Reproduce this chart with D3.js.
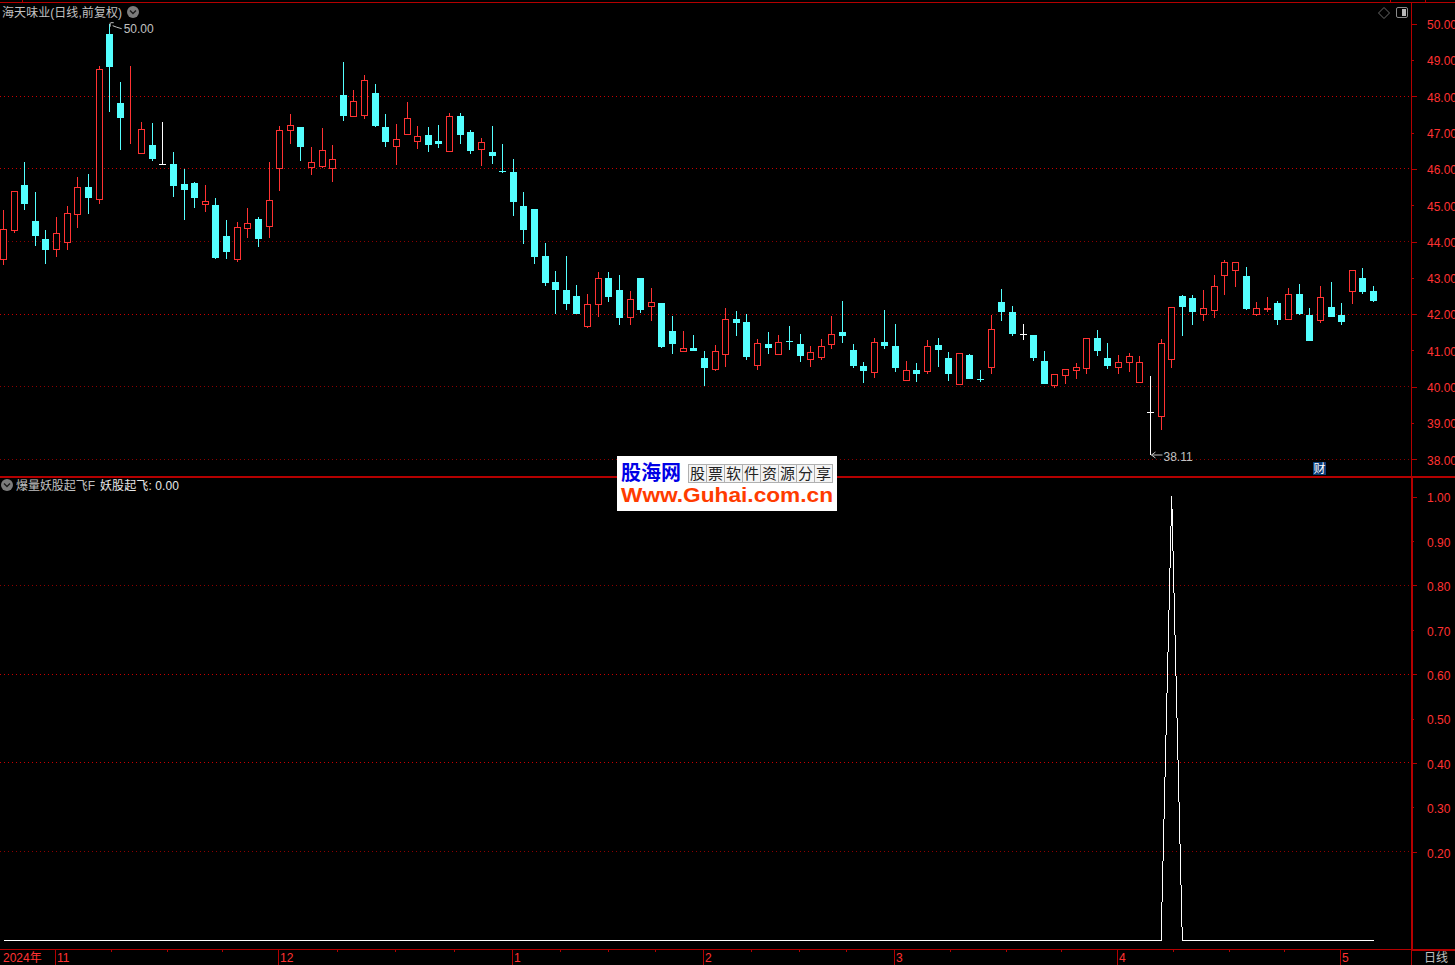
<!DOCTYPE html>
<html>
<head>
<meta charset="utf-8">
<title>海天味业</title>
<script src="https://cdn.jsdelivr.net/npm/d3@7"></script>
<style>
html, body { margin: 0; padding: 0; background: #000; overflow: hidden; }
svg { display: block; }
text { font-family: "Liberation Sans", "Noto Sans CJK SC", sans-serif; font-size: 12px; }
</style>
</head>
<body>
<div id="chart"></div>
<script>
// daily bars
const opens = [43.51,44.33,45.56,44.57,44.07,43.78,44.00,44.75,45.50,45.18,49.72,47.82,46.90,46.43,46.66,46.13,46.14,45.58,45.61,45.02,45.01,44.15,43.51,44.36,44.62,44.44,46.03,47.06,47.15,46.04,46.07,46.02,48.04,47.47,47.49,48.09,47.15,46.64,46.97,46.78,46.93,46.77,46.50,47.46,47.02,46.56,46.47,45.94,45.91,44.98,44.90,43.60,42.88,42.66,42.50,41.68,42.29,42.99,42.66,41.93,42.99,42.23,42.31,41.53,40.99,41.07,40.79,40.50,40.91,41.87,41.78,40.61,41.18,40.91,41.25,41.18,40.75,40.83,41.19,41.51,41.01,40.57,40.41,41.23,41.12,40.19,40.46,40.44,41.15,40.79,40.08,40.87,40.20,40.55,42.33,42.06,41.44,41.42,40.71,40.06,40.33,40.47,40.52,41.34,40.79,40.55,40.69,40.14,39.29,39.18,40.77,42.50,42.44,42.01,42.10,43.09,43.22,43.05,42.01,42.15,42.31,41.87,42.55,41.97,41.85,42.20,41.97,42.65,43.00,42.64];
const closes = [44.34,45.38,45.02,44.16,43.77,44.23,44.78,45.49,45.20,48.74,48.81,47.40,46.91,47.09,46.27,46.13,45.53,45.42,45.20,45.11,43.55,43.71,44.39,44.50,44.07,45.13,47.06,47.20,46.60,46.18,46.51,46.26,47.46,47.87,48.44,47.18,46.74,46.81,47.39,46.92,46.66,46.69,47.45,46.93,46.49,46.73,46.36,45.93,45.09,44.32,43.57,42.86,42.66,42.28,42.00,42.27,42.99,42.47,41.89,42.41,42.11,42.32,41.09,41.18,41.06,40.98,40.52,40.97,41.86,41.76,40.82,41.20,41.07,41.22,41.24,40.85,40.95,41.11,41.44,41.40,40.57,40.43,41.22,41.12,40.52,40.45,40.35,41.11,41.01,40.35,40.92,40.21,40.19,41.58,42.06,41.45,41.44,40.79,40.07,40.34,40.48,40.54,41.33,40.98,40.57,40.67,40.84,40.67,39.29,41.20,42.19,42.20,42.06,42.16,42.77,43.43,43.43,42.14,42.16,42.18,41.84,42.55,42.00,41.26,42.46,41.92,41.78,43.21,42.61,42.36];
const highs = [44.87,45.38,46.18,45.36,44.32,44.68,44.98,45.78,45.86,48.84,50.00,48.39,48.84,47.29,47.26,47.29,46.47,46.00,45.64,45.56,45.20,44.59,44.54,44.92,44.68,46.19,47.18,47.51,47.15,46.60,47.13,46.66,48.95,48.17,48.59,48.34,47.51,47.24,47.84,47.18,47.15,47.21,47.54,47.54,47.07,46.85,47.18,46.69,46.27,45.36,44.90,43.96,43.19,43.60,42.80,42.55,43.16,43.16,43.08,42.64,42.99,42.72,42.31,41.95,41.53,41.42,40.98,41.15,42.17,42.09,42.00,41.31,41.51,41.42,41.67,41.45,41.12,41.31,41.95,42.36,41.18,40.68,41.34,42.11,41.73,40.71,40.65,41.29,41.34,40.96,40.92,40.90,40.46,41.98,42.69,42.22,41.73,41.42,40.98,40.34,40.48,40.65,41.33,41.56,41.20,40.87,40.93,40.85,40.30,41.31,42.19,42.53,42.53,42.66,43.08,43.49,43.43,43.30,42.33,42.47,42.36,42.72,42.83,42.17,42.77,42.88,42.31,43.21,43.27,42.77];
const lows = [43.35,44.23,44.87,43.88,43.38,43.57,43.77,44.37,44.76,45.03,47.57,46.52,46.69,46.43,46.22,46.11,45.23,44.59,44.92,44.81,43.52,43.52,43.44,44.10,43.85,44.10,45.39,46.69,46.22,45.83,46.03,45.64,47.32,47.47,47.37,47.15,46.60,46.11,46.93,46.55,46.47,46.58,46.50,46.69,46.41,46.08,46.14,45.89,44.70,43.93,43.38,42.77,42.00,42.11,42.00,41.62,41.92,42.33,41.70,41.70,42.03,41.81,41.07,40.90,40.96,40.98,40.02,40.43,40.54,41.40,40.74,40.46,40.90,40.87,41.01,40.68,40.54,40.74,41.04,41.20,40.52,40.10,40.24,41.04,40.41,40.19,40.14,40.35,40.54,40.16,40.05,40.21,40.13,40.35,41.81,41.40,41.29,40.71,40.07,39.96,40.07,40.21,40.35,40.85,40.49,40.35,40.41,40.10,38.11,38.81,40.52,41.40,41.70,41.81,41.89,42.53,42.75,42.11,41.95,42.06,41.70,41.84,41.97,41.26,41.76,41.92,41.70,42.28,42.55,42.33];
// indicator pane: 0 everywhere but the one signal day
const signal = [0,0,0,0,0,0,0,0,0,0,0,0,0,0,0,0,0,0,0,0,0,0,0,0,0,0,0,0,0,0,0,0,0,0,0,0,0,0,0,0,0,0,0,0,0,0,0,0,0,0,0,0,0,0,0,0,0,0,0,0,0,0,0,0,0,0,0,0,0,0,0,0,0,0,0,0,0,0,0,0,0,0,0,0,0,0,0,0,0,0,0,0,0,0,0,0,0,0,0,0,0,0,0,0,0,0,0,0,0,0,1,0,0,0,0,0,0,0,0,0,0,0,0,0,0,0,0,0,0,0];

const priceTicks = [50,49,48,47,46,45,44,43,42,41,40,39,38];
const priceGrid = [48,46,44,42,40,38];
const priceGridStrong = [48,46,42];
const sigTicks = [1,0.9,0.8,0.7,0.6,0.5,0.4,0.3,0.2];
const sigGrid = [0.8,0.6,0.4,0.2];
const sigGridStrong = [0.6,0.4];
const monthBars = [5,26,48,66,84,105,126];
const monthLabels = ['11','12','1','2','3','4','5'];
const maxBar = 10, minBar = 108;

const RED = '#ff3232', CYAN = '#54ffff', LINE = '#b40000', GREY = '#c0c0c0';
const width = 1455, height = 965;
const axisX = 1411;

const svg = d3.select('#chart').append('svg')
    .attr('width', width)
    .attr('height', height)
    .style('background', '#000');

// scales
const xScale = d3.scaleLinear().domain([0, 129]).range([3.5, 1373.5]);
const yPrice = d3.scaleLinear().domain([38, 50]).range([459.3, 23.7]);
const ySig = d3.scaleLinear().domain([0, 1]).range([940.5, 496.5]);
const px = (v) => Math.floor(v) + 0.5;

// frame
const frame = svg.append('g').attr('shape-rendering', 'crispEdges');
function frameRect(x, y, w, h) {
    frame.append('rect').attr('x', x).attr('y', y).attr('width', w).attr('height', h).attr('fill', LINE);
}
frameRect(0, 2, width, 1);
frameRect(axisX, 2, 1, 474);
frameRect(0, 476, width, 2);
frameRect(axisX, 478, 2, 471);
frameRect(0, 949, axisX, 1);
frameRect(axisX, 949, width - axisX, 2);
frameRect(axisX, 950, 1, 15);
[22, 1390, 1425].forEach((x) => frameRect(x, 0, 1, 2));

// dotted grid
function drawGrid(values, scale, strong) {
    svg.append('g').attr('class', 'grid').selectAll('line')
        .data(values)
        .join('line')
        .attr('x1', 0)
        .attr('x2', axisX)
        .attr('y1', (d) => px(scale(d)))
        .attr('y2', (d) => px(scale(d)))
        .attr('stroke', (d) => strong.includes(d) ? '#c80000' : '#8c0000')
        .attr('stroke-dasharray', '1,3')
        .attr('shape-rendering', 'crispEdges');
}
drawGrid(priceGrid, yPrice, priceGridStrong);
drawGrid(sigGrid, ySig, sigGridStrong);

// right hand axes
function drawAxis(values, scale, isLong, labelShift) {
    const axis = d3.axisRight(scale).tickValues(values).tickFormat(d3.format('.2f'));
    const g = svg.append('g').attr('transform', `translate(${axisX + 1}, 0)`).call(axis);
    g.select('.domain').remove();
    g.selectAll('.tick line')
        .attr('stroke', LINE)
        .attr('x2', (d) => isLong(d) ? 5 : 2)
        .attr('shape-rendering', 'crispEdges');
    g.selectAll('.tick text')
        .attr('x', 15)
        .attr('y', labelShift)
        .attr('fill', RED)
        .style('font-family', '"Liberation Sans", sans-serif')
        .style('font-size', '12px');
}
drawAxis(priceTicks, yPrice, (d) => d % 2 === 0, 1);
drawAxis(sigTicks, ySig, (d) => Math.round(d * 10) % 2 === 0, 1.5);

// candles
const bars = d3.range(opens.length).map((i) => ({
    i: i, o: opens[i], c: closes[i], h: highs[i], l: lows[i]
}));
const barColor = (d) => d.c === d.o ? '#ffffff' : (d.c > d.o ? RED : CYAN);
const candles = svg.append('g').attr('shape-rendering', 'crispEdges')
    .selectAll('g')
    .data(bars)
    .join('g')
    .attr('transform', (d) => `translate(${Math.floor(xScale(d.i))}, 0)`);

candles.append('line')
    .attr('x1', 0.5).attr('x2', 0.5)
    .attr('y1', (d) => Math.round(yPrice(d.h)))
    .attr('y2', (d) => Math.round(yPrice(d.l)))
    .attr('stroke', barColor);

candles.append('rect')
    .attr('x', (d) => d.c > d.o ? -2.5 : -3)
    .attr('width', (d) => d.c > d.o ? 6 : 7)
    .attr('y', (d) => {
        const top = Math.round(yPrice(Math.max(d.o, d.c)));
        return d.c > d.o ? top + 0.5 : top;
    })
    .attr('height', (d) => {
        const h = Math.round(yPrice(Math.min(d.o, d.c))) - Math.round(yPrice(Math.max(d.o, d.c)));
        return d.c > d.o ? h : Math.max(h, 1);
    })
    .attr('fill', (d) => d.c > d.o ? '#000' : barColor(d))
    .attr('stroke', (d) => d.c > d.o ? RED : 'none');

// max / min flags
const flags = svg.append('g');
const maxX = xScale(maxBar), maxY = yPrice(highs[maxBar]);
flags.append('path')
    .attr('d', `M${maxX + 0.5},${maxY - 1}V${maxY + 3}M${maxX + 1},${maxY - 1}H${maxX + 4}M${maxX + 3},${maxY + 2}L${maxX + 7},${maxY + 3.5}L${maxX + 12},${maxY + 5}`)
    .attr('fill', 'none')
    .attr('stroke', GREY);
flags.append('text')
    .attr('x', maxX + 14)
    .attr('y', maxY + 9.3)
    .attr('fill', GREY)
    .text(d3.format('.2f')(highs[maxBar]));
const minX = xScale(minBar), minY = Math.round(yPrice(lows[minBar]));
flags.append('path')
    .attr('d', `M${minX + 1},${minY}H${minX + 12}M${minX + 5},${minY - 3}L${minX + 1},${minY}L${minX + 5},${minY + 3}`)
    .attr('fill', 'none')
    .attr('stroke', GREY);
flags.append('text')
    .attr('x', minX + 13)
    .attr('y', minY + 5.5)
    .attr('fill', GREY)
    .text(d3.format('.2f')(lows[minBar]));

// indicator line
const sigLine = d3.line()
    .x((d, i) => xScale(i))
    .y((d) => ySig(d))
    .curve(d3.curveLinear);
svg.append('path')
    .attr('d', sigLine(signal))
    .attr('fill', 'none')
    .attr('stroke', '#ffffff')
    .attr('stroke-width', 1)
    .attr('shape-rendering', 'crispEdges');

// date strip
const bottom = svg.append('g').attr('shape-rendering', 'crispEdges');
const monthX = monthBars.map((b) => Math.floor(xScale(b)) - 1);
monthX.forEach((x, k) => {
    bottom.append('rect').attr('x', x).attr('y', 950).attr('width', 1).attr('height', 15).attr('fill', LINE);
    svg.append('text').attr('x', x + 2).attr('y', 962).attr('fill', RED).text(monthLabels[k]);
    if (k < monthX.length - 1) {
        d3.range(1, 4).forEach((q) => {
            bottom.append('rect')
                .attr('x', Math.round(x + (monthX[k + 1] - x) * q / 4))
                .attr('y', 950).attr('width', 1).attr('height', 2).attr('fill', LINE);
        });
    }
});
svg.append('text').attr('x', 3).attr('y', 962).attr('fill', RED).text('2024年');
svg.append('text').attr('x', 1424).attr('y', 962).attr('fill', GREY).attr('textLength', 24).text('日线');

// titles
function chevronIcon(cx, cy) {
    svg.append('circle').attr('cx', cx).attr('cy', cy).attr('r', 6).attr('fill', '#7c7c7c');
    svg.append('path')
        .attr('d', `M${cx - 3},${cy - 1.5}L${cx},${cy + 1.5}L${cx + 3},${cy - 1.5}`)
        .attr('fill', 'none').attr('stroke', '#1c1c1c').attr('stroke-width', 1.4);
}
svg.append('text').attr('x', 2).attr('y', 16.5).attr('fill', GREY).attr('textLength', 120).text('海天味业(日线,前复权)');
chevronIcon(133, 12);
chevronIcon(7, 485);
svg.append('text').attr('x', 16).attr('y', 489.5).attr('fill', GREY).attr('textLength', 79).text('爆量妖股起飞F');
svg.append('text').attr('x', 100).attr('y', 489.5).attr('fill', '#e8e8e8').attr('textLength', 79).text('妖股起飞: 0.00');

// top right buttons
svg.append('path').attr('d', 'M1384,7.5L1389.5,13L1384,18.5L1378.5,13Z').attr('fill', 'none').attr('stroke', '#6a6a6a');
svg.append('rect').attr('x', 1396.5).attr('y', 7.5).attr('width', 11).attr('height', 10).attr('rx', 1.5).attr('fill', '#000').attr('stroke', '#8a8a8a');
svg.append('rect').attr('x', 1402).attr('y', 9).attr('width', 4).attr('height', 7).attr('fill', '#b8b8b8');

// 财 marker
svg.append('rect').attr('x', 1313).attr('y', 462).attr('width', 13).attr('height', 13).attr('fill', '#0a3c78');
svg.append('text').attr('x', 1313.5).attr('y', 473).attr('fill', '#ffffff').text('财');

// watermark logo
const logo = svg.append('g');
logo.append('rect').attr('x', 617).attr('y', 456).attr('width', 220).attr('height', 55).attr('fill', '#ffffff');
logo.append('text').attr('x', 621).attr('y', 480).attr('fill', '#0000e6')
    .style('font-size', '20px').style('font-weight', 'bold').attr('textLength', 60).text('股海网');
const logoCells = ['股','票','软','件','资','源','分','享'];
logo.selectAll('.cell')
    .data(logoCells)
    .join('g')
    .attr('class', 'cell')
    .each(function(d, i) {
        const g = d3.select(this);
        g.append('rect')
            .attr('x', 688.5 + i * 18).attr('y', 464.5).attr('width', 18).attr('height', 18)
            .attr('fill', '#f4f4f4').attr('stroke', '#b0b0b0').attr('shape-rendering', 'crispEdges');
        g.append('text')
            .attr('x', 690 + i * 18).attr('y', 479).attr('fill', '#222222')
            .style('font-size', '15px').text(d);
    });
logo.append('text').attr('x', 621).attr('y', 502).attr('fill', '#ff3c00')
    .style('font-size', '20px').style('font-weight', 'bold').attr('textLength', 212).attr('lengthAdjust', 'spacingAndGlyphs')
    .text('Www.Guhai.com.cn');
</script>
</body>
</html>
